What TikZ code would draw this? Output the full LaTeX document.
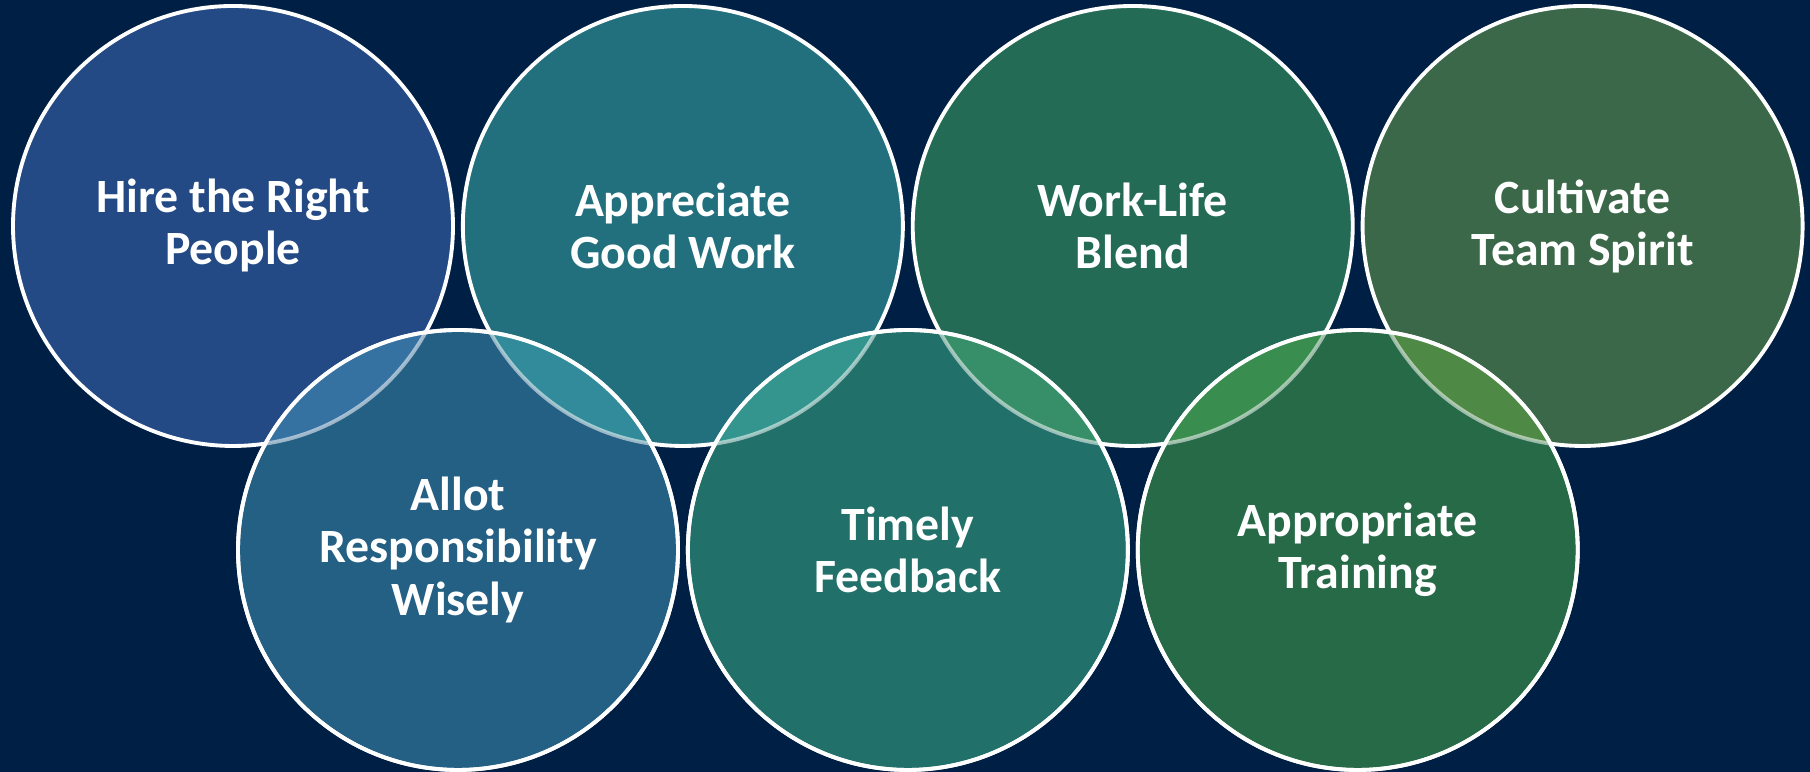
\documentclass[tikz,border=0pt]{standalone}
\usepackage{fontspec}
\setmainfont{Carlito}
\usetikzlibrary{positioning}

\definecolor{navybg}{HTML}{001F45}
\definecolor{hireC}{HTML}{234A85}
\definecolor{apprC}{HTML}{22707E}
\definecolor{workC}{HTML}{236B55}
\definecolor{cultC}{HTML}{3A6848}
\definecolor{allotC}{HTML}{245F84}
\definecolor{timelyC}{HTML}{22706A}
\definecolor{trainC}{HTML}{276A48}

\tikzset{
  ring/.style={draw=white, line width=1.1pt, circle, minimum size=4.4cm, inner sep=0pt,
    text=white, font=\fontsize{13.6}{14.8}\selectfont\bfseries, align=center},
  ringline/.style={draw=white, line width=1.1pt},
  fadeline/.style={draw=white, draw opacity=0.55, line width=1.1pt}
}

\begin{document}
\begin{tikzpicture}[node distance=0.06cm]
    \fill[navybg] (0,0) rectangle (18.10,7.72);
    \useasboundingbox (0,0) rectangle (18.10,7.72);

    % top row
    \node[ring, fill=hireC] (hire) at (2.33,5.46) {Hire the Right\\People};
    \node[ring, fill=apprC, right=of hire] (appr) {Appreciate\\Good Work};
    \node[ring, fill=workC, right=of appr] (work) {Work-Life\\Blend};
    \node[ring, fill=cultC, right=of work] (cult) {Cultivate\\Team Spirit};

    % bottom row
    \node[ring, fill=allotC] (allot) at (4.58,2.22) {Allot\\Responsibility\\Wisely};
    \node[ring, fill=timelyC, right=of allot] (timely) {Timely\\Feedback};
    \node[ring, fill=trainC, right=of timely] (train) {Appropriate\\Training};

    % overlaps
    \foreach \up/\down/\lens in {hire/allot/3672A1, appr/allot/318B9A, appr/timely/33958D,
                                 work/timely/368F68, work/train/398D4E, cult/train/4E8A45} {
        \begin{scope}
            \clip (\down.center) circle (2.2cm);
            \definecolor{lensC}{HTML}{\lens}
            \fill[lensC] (\up.center) circle (2.2cm);
            \draw[fadeline] (\up.center) circle (2.2cm);
        \end{scope}
    }
    \foreach \down in {allot,timely,train}
        \draw[ringline] (\down.center) circle (2.2cm);
\end{tikzpicture}
\end{document}
